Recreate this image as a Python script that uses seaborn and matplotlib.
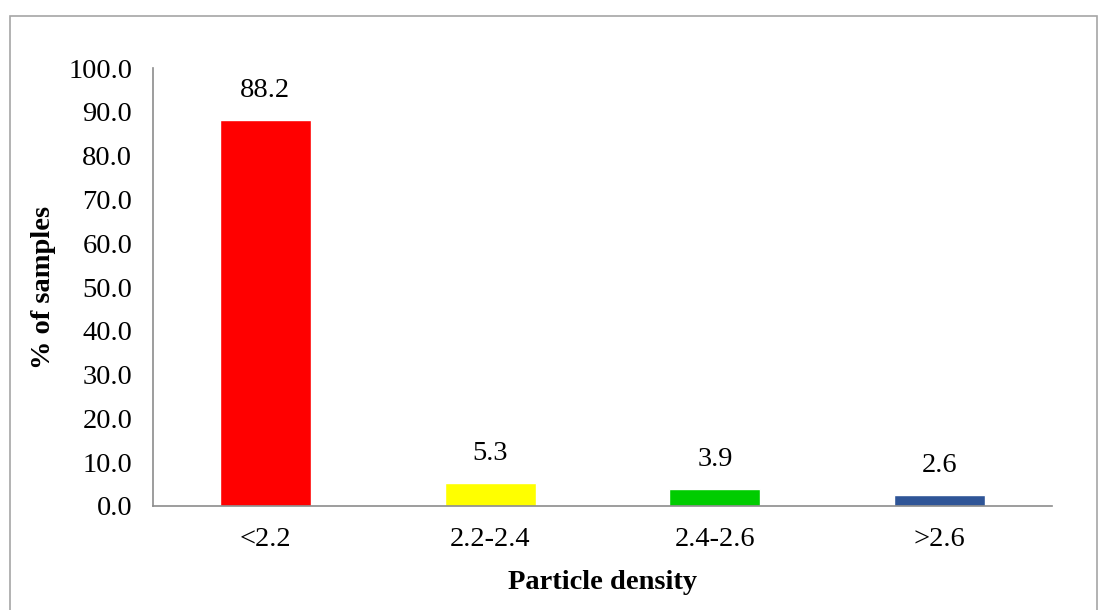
import matplotlib
matplotlib.use("Agg")
import matplotlib.pyplot as plt
import seaborn as sns
import pandas as pd
from matplotlib.patches import Rectangle

categories = ["<2.2", "2.2-2.4", "2.4-2.6", ">2.6"]
percent = [88.2, 5.3, 3.9, 2.6]
bar_colors = ["#FF0000", "#FFFF00", "#00CC00", "#2F5597"]
y_ticks = [0, 10, 20, 30, 40, 50, 60, 70, 80, 90, 100]

sns.set_style("white")
plt.rcParams["font.family"] = ["Liberation Serif", "DejaVu Serif"]
plt.rcParams["text.color"] = "black"
plt.rcParams["axes.labelcolor"] = "black"
plt.rcParams["xtick.labelcolor"] = "black"
plt.rcParams["ytick.labelcolor"] = "black"

FS = 20.5

df = pd.DataFrame({"density": categories, "pct": percent})

fig = plt.figure(figsize=(11.04, 6.10), dpi=100)
ax = fig.add_axes([0.1386, 0.1705, 0.8144, 0.718])

sns.barplot(data=df, x="density", y="pct", hue="density", order=categories,
            hue_order=categories, palette=bar_colors, width=0.405,
            saturation=1, legend=False, ax=ax)

ax.set_xlim(-0.5, len(categories) - 0.5)
ax.set_ylim(0, 100)
ax.set_yticks(y_ticks)
ax.set_yticklabels([f"{v:.1f}" for v in y_ticks], fontsize=FS)

# category boundaries carry the tick marks, labels sit at the centres
ax.set_xticks([i - 0.5 for i in range(len(categories) + 1)])
ax.set_xticklabels([])
ax.set_xticks(range(len(categories)), minor=True)
ax.set_xticklabels(categories, minor=True, fontsize=FS)
ax.tick_params(axis="x", which="major", direction="out", length=8, width=1.2,
               color="#8C8C8C")
ax.tick_params(axis="x", which="minor", length=0, pad=15, labelcolor="black")
ax.tick_params(axis="y", direction="out", length=7, width=1.2, color="#8C8C8C",
               pad=8, labelcolor="black")

for side in ("top", "right"):
    ax.spines[side].set_visible(False)
for side in ("left", "bottom"):
    ax.spines[side].set_color("#8C8C8C")
    ax.spines[side].set_linewidth(1.2)

for i, v in enumerate(percent):
    ax.annotate(f"{v:.1f}", (i, v), xytext=(0, 12), textcoords="offset points",
                ha="center", va="bottom", fontsize=FS, color="black")

ax.set_xlabel("Particle density", fontsize=FS, fontweight="bold", labelpad=13,
              color="black")
ax.set_ylabel("% of samples", fontsize=FS, fontweight="bold", labelpad=9,
              color="black")

fig.patches.append(Rectangle((10 / 1104, -0.05), 1087 / 1104, 1 - 16 / 610 + 0.05,
                             transform=fig.transFigure, fill=False,
                             edgecolor="#A6A6A6", linewidth=1.2))

fig.savefig("out.png", dpi=100)
